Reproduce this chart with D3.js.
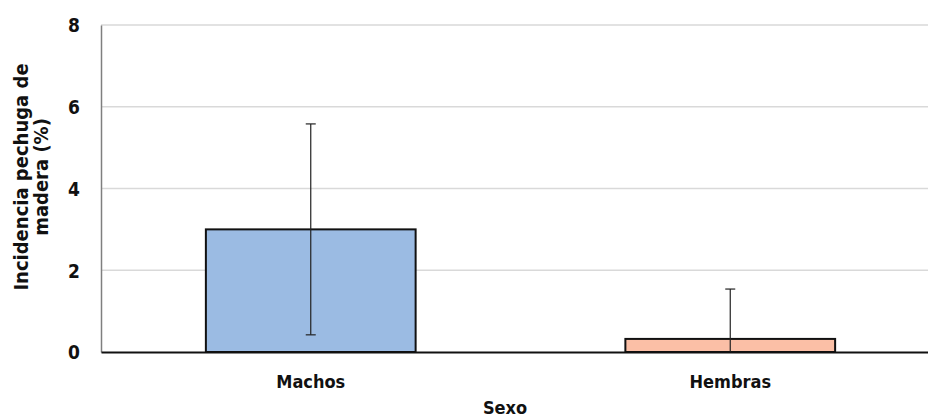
<!DOCTYPE html>
<html>
<head>
<meta charset="utf-8">
<script src="https://cdn.jsdelivr.net/npm/d3@7"></script>
<style>
  html, body { margin: 0; padding: 0; background: #fff; }
  svg { display: block; }
</style>
</head>
<body>
<svg id="chart" width="928" height="419"></svg>
<script>
// Incidence of wooden breast by sex, with standard deviation bars
const categories = ["Machos", "Hembras"];
const means = [3.0, 0.32];
const errors = [2.58, 1.22];
const barColors = ["#9bbbe3", "#fbbfa6"];
const yTicks = [0, 2, 4, 6, 8];
const yTitle = ["Incidencia pechuga de", "madera (%)"];
const xTitle = "Sexo";

const FONT = "'DejaVu Sans Condensed', 'DejaVu Sans', Verdana, sans-serif";
const styleText = sel => sel
  .attr("font-family", FONT)
  .style("font-stretch", "condensed")
  .attr("font-weight", "bold")
  .attr("fill", "#111");

const svg = d3.select("#chart");
const margin = { top: 25, right: -12, bottom: 67, left: 101 };
const W = 928, H = 419;
const innerW = W - margin.left - margin.right;
const innerH = H - margin.top - margin.bottom;

const x = d3.scaleBand().domain(categories).range([0, innerW]).paddingInner(0.5).paddingOuter(0.25);
const y = d3.scaleLinear().domain([0, 8]).range([innerH, 0]);

const g = svg.append("g").attr("transform", `translate(${margin.left},${margin.top})`);

// horizontal gridlines
g.append("g")
  .selectAll("line")
  .data(yTicks.filter(t => t > 0))
  .join("line")
  .attr("x1", 0).attr("x2", innerW)
  .attr("y1", d => y(d)).attr("y2", d => y(d))
  .attr("stroke", "#d9d9d9").attr("stroke-width", 1.5);

// y axis
const yAxis = g.append("g")
  .call(d3.axisLeft(y).tickValues(yTicks).tickSize(0).tickPadding(21).tickFormat(d3.format("d")));
yAxis.select(".domain").attr("stroke", "#7f7f7f").attr("stroke-width", 1.5);
yAxis.selectAll("text").call(styleText).attr("font-size", 19).attr("dy", "0.36em");

// bars
g.append("g")
  .selectAll("rect")
  .data(categories)
  .join("rect")
  .attr("x", d => x(d))
  .attr("width", x.bandwidth())
  .attr("y", (d, i) => y(means[i]))
  .attr("height", (d, i) => y(0) - y(means[i]))
  .attr("fill", (d, i) => barColors[i])
  .attr("stroke", "#111").attr("stroke-width", 2);

// error bars (clipped at zero)
const eb = g.append("g").attr("stroke", "#222").attr("stroke-width", 1.2);
categories.forEach((c, i) => {
  const cx = x(c) + x.bandwidth() / 2;
  const hi = means[i] + errors[i];
  const lo = Math.max(0, means[i] - errors[i]);
  eb.append("line").attr("x1", cx).attr("x2", cx).attr("y1", y(hi)).attr("y2", y(lo));
  eb.append("line").attr("x1", cx - 5).attr("x2", cx + 5).attr("y1", y(hi)).attr("y2", y(hi));
  if (means[i] - errors[i] > 0) {
    eb.append("line").attr("x1", cx - 5).attr("x2", cx + 5).attr("y1", y(lo)).attr("y2", y(lo));
  }
});

// x axis
const xAxis = g.append("g")
  .attr("transform", `translate(0,${innerH})`)
  .call(d3.axisBottom(x).tickSize(0).tickPadding(23));
xAxis.select(".domain").attr("stroke", "#111").attr("stroke-width", 2);
xAxis.selectAll("text").call(styleText).attr("font-size", 18);

// axis titles
svg.append("text")
  .attr("x", 505).attr("y", 414)
  .attr("text-anchor", "middle")
  .call(styleText)
  .attr("font-size", 18)
  .text(xTitle);

const yt = svg.append("text")
  .attr("transform", "translate(0,177) rotate(-90)")
  .attr("text-anchor", "middle")
  .call(styleText)
  .attr("font-size", 20);
yt.selectAll("tspan")
  .data(yTitle)
  .join("tspan")
  .attr("x", 0)
  .attr("y", (d, i) => 28 + i * 20)
  .text(d => d);
</script>
</body>
</html>
